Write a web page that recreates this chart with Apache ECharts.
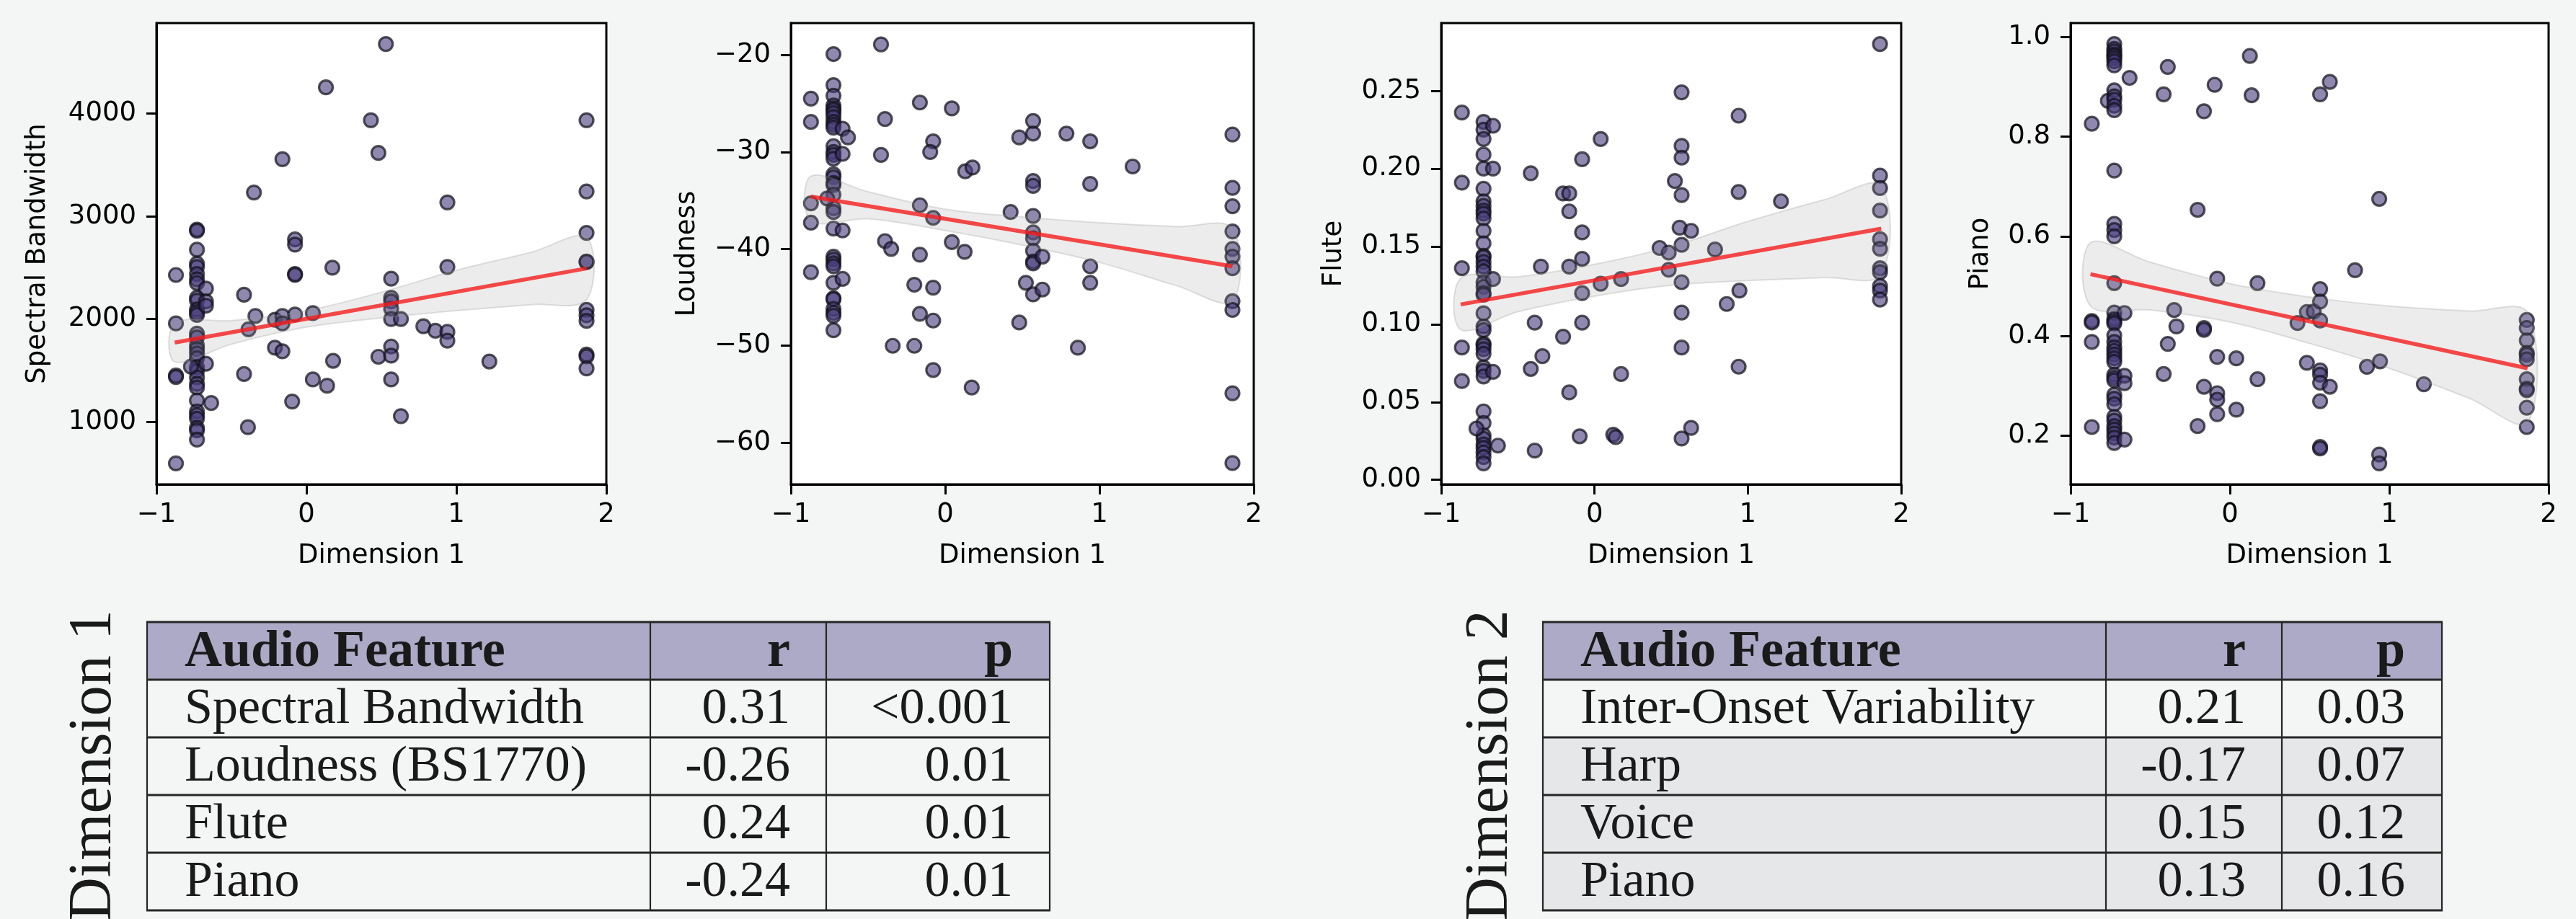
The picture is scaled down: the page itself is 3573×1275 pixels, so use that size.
<!DOCTYPE html>
<html><head><meta charset="utf-8">
<script src="https://cdn.jsdelivr.net/npm/echarts@6/dist/echarts.min.js"></script>
<style>html,body{margin:0;padding:0;background:#f4f6f5}#c{width:3573px;height:1275px}</style>
</head><body><div id="c"></div><script>
// ---------------- DATA ----------------
const xTicks = [-1, 0, 1, 2];
const yLabels = ['Spectral Bandwidth', 'Loudness', 'Flute', 'Piano'];
const xLabel = 'Dimension 1';

const bandwidthPts = [
[-0.87,2429],[-0.87,1957],[-0.87,1450],[-0.87,1435],[-0.87,593],
[-0.73,2871],[-0.73,2860],[-0.73,2675],[-0.73,2539],[-0.73,2507],[-0.73,2439],[-0.73,2386],[-0.73,2350],[-0.73,2207],[-0.73,2179],[-0.73,2093],[-0.73,2064],[-0.73,2039],[-0.73,1857],[-0.73,1821],[-0.73,1743],[-0.73,1707],[-0.73,1664],[-0.73,1618],[-0.73,1529],[-0.73,1493],[-0.73,1432],[-0.73,1368],[-0.73,1332],[-0.73,1207],[-0.73,1100],[-0.73,1064],[-0.73,1029],[-0.73,939],[-0.73,914],[-0.73,825],
[-0.77,1536],[-0.67,2296],[-0.67,2171],[-0.67,2129],[-0.67,1564],[-0.635,1182],
[-0.416,2236],[-0.416,1464],[-0.39,946],[-0.35,3232],[-0.34,2029],[-0.386,1900],
[-0.21,1993],[-0.21,1721],[-0.16,3557],[-0.16,2029],[-0.16,1957],[-0.16,1686],
[-0.076,2775],[-0.076,2725],[-0.076,2439],[-0.076,2430],[-0.095,1196],[-0.076,2043],
[0.043,2057],[0.043,1411],[0.13,4257],[0.138,1350],[0.173,2500],[0.178,1593],
[0.43,3936],[0.48,3618],[0.48,1632],[0.53,4679],
[0.565,2393],[0.565,2207],[0.565,2171],[0.565,2100],[0.565,2000],[0.565,1732],[0.565,1643],[0.565,1411],
[0.63,2000],[0.63,1054],[0.78,1929],[0.86,1886],
[0.94,3136],[0.94,2507],[0.94,1875],[0.94,1789],[1.22,1586],
[1.868,3936],[1.868,3243],[1.868,2839],[1.868,2554],[1.868,2560],[1.868,2089],[1.868,2036],[1.868,1982],[1.868,1654],[1.868,1636],[1.868,1518]
];
const loudnessPts = [
[-0.87,-24.5],[-0.87,-26.9],[-0.87,-35.3],[-0.87,-37.3],[-0.87,-42.4],
[-0.724,-19.9],[-0.724,-23.1],[-0.724,-24.2],[-0.724,-25.2],[-0.724,-25.5],[-0.724,-25.7],[-0.724,-26.0],[-0.724,-26.4],[-0.724,-26.9],[-0.724,-27.2],[-0.724,-27.5],[-0.724,-29.4],[-0.724,-30.0],[-0.724,-30.3],[-0.724,-30.7],[-0.724,-32.3],[-0.724,-32.6],[-0.724,-33.2],[-0.724,-33.4],[-0.724,-34.4],[-0.724,-35.8],[-0.724,-36.2],[-0.724,-37.9],[-0.724,-40.8],[-0.724,-41.1],[-0.724,-41.5],[-0.724,-41.8],[-0.724,-43.5],[-0.724,-45.1],[-0.724,-45.2],[-0.724,-46.2],[-0.724,-46.6],[-0.724,-46.9],[-0.724,-48.4],
[-0.765,-34.8],[-0.665,-27.6],[-0.63,-28.5],[-0.665,-30.2],[-0.665,-38.1],[-0.665,-43.1],
[-0.416,-18.9],[-0.416,-30.3],[-0.39,-26.6],[-0.39,-39.2],[-0.35,-40.0],[-0.34,-50.0],
[-0.2,-43.7],[-0.2,-50.0],[-0.164,-24.9],[-0.164,-35.5],[-0.164,-40.6],[-0.164,-46.7],
[-0.078,-28.9],[-0.097,-30.0],[-0.078,-36.8],[-0.078,-44.0],[-0.078,-47.4],[-0.078,-52.5],
[0.043,-25.5],[0.043,-39.3],[0.13,-32.0],[0.177,-31.6],[0.126,-40.3],[0.172,-54.3],
[0.424,-36.2],[0.48,-28.5],[0.48,-47.6],[0.523,-43.5],
[0.57,-26.8],[0.57,-28.1],[0.57,-33.0],[0.57,-33.5],[0.57,-36.6],[0.57,-38.3],[0.57,-38.9],[0.57,-40.2],[0.57,-41.3],[0.57,-41.5],[0.57,-44.7],
[0.63,-40.8],[0.63,-44.2],[0.786,-28.1],[0.86,-50.2],
[0.94,-28.9],[0.94,-33.3],[0.94,-41.8],[0.94,-43.5],[1.215,-31.5],
[1.862,-28.2],[1.862,-33.7],[1.862,-35.6],[1.862,-38.2],[1.862,-40.0],[1.862,-40.8],[1.862,-42.0],[1.862,-45.4],[1.862,-46.3],[1.862,-54.9],[1.862,-62.1]
];
const flutePts = [
[-0.865,0.236],[-0.865,0.191],[-0.865,0.136],[-0.865,0.085],[-0.865,0.0635],
[-0.724,0.230],[-0.724,0.225],[-0.724,0.219],[-0.724,0.209],[-0.724,0.200],[-0.724,0.187],[-0.724,0.179],[-0.724,0.176],[-0.724,0.173],[-0.724,0.171],[-0.724,0.168],[-0.724,0.160],[-0.724,0.152],[-0.724,0.144],[-0.724,0.143],[-0.724,0.140],[-0.724,0.137],[-0.724,0.134],[-0.724,0.127],[-0.724,0.124],[-0.724,0.120],[-0.724,0.119],[-0.724,0.107],[-0.724,0.0986],[-0.724,0.0962],[-0.724,0.0875],[-0.724,0.0864],[-0.724,0.084],[-0.724,0.081],[-0.724,0.0722],[-0.724,0.070],[-0.724,0.0664],[-0.724,0.044],[-0.724,0.0365],[-0.724,0.0287],[-0.724,0.0264],[-0.724,0.0228],[-0.724,0.0205],[-0.724,0.0176],[-0.724,0.0146],[-0.724,0.0106],
[-0.77,0.033],[-0.662,0.2275],[-0.662,0.200],[-0.662,0.129],[-0.662,0.0694],[-0.63,0.022],
[-0.416,0.197],[-0.416,0.0713],[-0.39,0.101],[-0.39,0.0188],[-0.35,0.137],[-0.34,0.0795],
[-0.205,0.184],[-0.205,0.092],[-0.165,0.184],[-0.165,0.1725],[-0.165,0.137],[-0.165,0.0562],
[-0.081,0.206],[-0.081,0.159],[-0.081,0.142],[-0.081,0.120],[-0.081,0.101],[-0.097,0.028],
[0.04,0.219],[0.04,0.126],[0.122,0.029],[0.138,0.0275],[0.173,0.129],[0.173,0.068],
[0.424,0.149],[0.484,0.146],[0.484,0.135],[0.524,0.192],
[0.568,0.249],[0.568,0.2146],[0.568,0.207],[0.568,0.183],[0.555,0.162],[0.568,0.151],[0.568,0.127],[0.568,0.1075],[0.568,0.085],[0.568,0.0266],
[0.63,0.160],[0.63,0.0334],[0.786,0.148],[0.862,0.113],
[0.94,0.234],[0.94,0.185],[0.945,0.1216],[0.94,0.0727],[1.216,0.179],
[1.862,0.280],[1.862,0.1955],[1.862,0.1875],[1.862,0.173],[1.862,0.1546],[1.862,0.1485],[1.862,0.136],[1.862,0.1334],[1.862,0.1245],[1.862,0.1216],[1.862,0.1158]
];
const pianoPts = [
[-0.867,0.826],[-0.867,0.430],[-0.867,0.427],[-0.867,0.388],[-0.867,0.217],[-0.766,0.872],
[-0.726,0.986],[-0.726,0.976],[-0.726,0.971],[-0.726,0.965],[-0.726,0.962],[-0.726,0.957],[-0.726,0.951],[-0.726,0.943],[-0.726,0.893],[-0.726,0.881],[-0.726,0.874],[-0.726,0.862],[-0.726,0.853],[-0.726,0.732],[-0.726,0.625],[-0.726,0.6125],[-0.726,0.600],[-0.726,0.506],[-0.726,0.447],[-0.726,0.434],[-0.726,0.429],[-0.726,0.425],[-0.726,0.401],[-0.726,0.388],[-0.726,0.377],[-0.726,0.370],[-0.726,0.3625],[-0.726,0.355],[-0.726,0.348],[-0.726,0.322],[-0.726,0.316],[-0.726,0.311],[-0.726,0.282],[-0.726,0.274],[-0.726,0.263],[-0.726,0.2375],[-0.726,0.230],[-0.726,0.219],[-0.726,0.212],[-0.726,0.204],[-0.726,0.196],[-0.726,0.185],
[-0.662,0.446],[-0.662,0.320],[-0.662,0.305],[-0.662,0.192],[-0.63,0.918],
[-0.416,0.885],[-0.416,0.3235],[-0.39,0.940],[-0.39,0.384],[-0.35,0.452],[-0.336,0.419],
[-0.203,0.653],[-0.203,0.219],[-0.163,0.851],[-0.163,0.416],[-0.163,0.412],[-0.163,0.298],
[-0.096,0.904],[-0.08,0.515],[-0.08,0.358],[-0.08,0.285],[-0.08,0.272],[-0.08,0.243],
[0.04,0.355],[0.04,0.252],[0.125,0.962],[0.136,0.883],[0.173,0.506],[0.173,0.313],
[0.424,0.426],[0.483,0.448],[0.483,0.346],[0.526,0.449],
[0.566,0.885],[0.566,0.494],[0.566,0.469],[0.566,0.431],[0.566,0.331],[0.566,0.322],[0.566,0.306],[0.566,0.269],[0.566,0.177],[0.566,0.174],
[0.627,0.910],[0.627,0.298],[0.785,0.532],[0.86,0.338],
[0.937,0.675],[0.942,0.349],[0.937,0.162],[0.937,0.144],[1.217,0.303],
[1.863,0.432],[1.863,0.416],[1.863,0.391],[1.863,0.366],[1.863,0.362],[1.863,0.353],[1.863,0.313],[1.863,0.294],[1.863,0.291],[1.863,0.256],[1.863,0.217]
];

// regression lines (endpoints) and confidence bands
const bandwidthFit = [[-0.878,1771],[1.868,2493]];
const loudnessFit = [[-0.87,-34.6],[1.862,-41.8]];
const fluteFit = [[-0.873,0.1127],[1.870,0.1614]];
const pianoFit = [[-0.875,0.524],[1.868,0.335]];

const bandwidthBandX = [-0.878,-0.5,0,0.5,1.0,1.5,1.868];
const bandwidthBandLo = [1582,1755,1921,2011,2082,2140,2189];
const bandwidthBandHi = [1957,1985,2082,2261,2475,2650,2796];
const loudnessBandX = [-0.87,-0.5,0,0.5,1.0,1.5,1.862];
const loudnessBandLo = [-37.1,-36.9,-38.1,-39.6,-41.4,-43.8,-45.4];
const loudnessBandHi = [-32.5,-34.1,-35.9,-36.7,-37.3,-37.7,-37.9];
const fluteBandX = [-0.873,-0.5,0,0.5,1.0,1.5,1.870];
const fluteBandLo = [0.0965,0.108,0.118,0.125,0.128,0.130,0.132];
const fluteBandHi = [0.1294,0.1305,0.1385,0.150,0.166,0.180,0.189];
const pianoBandX = [-0.875,-0.5,0,0.5,1.0,1.5,1.868];
const pianoBandLo = [0.460,0.452,0.428,0.385,0.335,0.275,0.226];
const pianoBandHi = [0.587,0.548,0.505,0.478,0.460,0.450,0.447];

const yRanges = [[389,4883],[-64.3,-16.7],[-0.0029,0.2935],[0.102,1.028]];
const bandwidthTicks = [1000,2000,3000,4000];
const loudnessTicks = [-60,-50,-40,-30,-20];
const fluteTicks = [0,0.05,0.10,0.15,0.20,0.25];
const pianoTicks = [0.2,0.4,0.6,0.8,1.0];

const tableHeader = ['Audio Feature','r','p'];
const dim1Features = ['Spectral Bandwidth','Loudness (BS1770)','Flute','Piano'];
const dim1R = ['0.31','-0.26','0.24','-0.24'];
const dim1P = ['<0.001','0.01','0.01','0.01'];
const dim2Features = ['Inter-Onset Variability','Harp','Voice','Piano'];
const dim2R = ['0.21','-0.17','0.15','0.13'];
const dim2P = ['0.03','0.07','0.12','0.16'];
const tableTitles = ['Dimension 1','Dimension 2'];

// ---------------- LAYOUT / STYLE ----------------
const grids = [
  {left:217, top:32, width:624, height:640},
  {left:1097, top:32, width:642, height:640},
  {left:1999, top:32, width:638, height:640},
  {left:2872, top:32, width:663, height:640}
];
const pts = [bandwidthPts, loudnessPts, flutePts, pianoPts];
const fits = [bandwidthFit, loudnessFit, fluteFit, pianoFit];
const bands = [
  [bandwidthBandX,bandwidthBandLo,bandwidthBandHi],
  [loudnessBandX,loudnessBandLo,loudnessBandHi],
  [fluteBandX,fluteBandLo,fluteBandHi],
  [pianoBandX,pianoBandLo,pianoBandHi]
];
const yTickSets = [bandwidthTicks, loudnessTicks, fluteTicks, pianoTicks];
const yFmt = [
  v => String(v).replace('-','\u2212'),
  v => String(v).replace('-','\u2212'),
  v => v.toFixed(2),
  v => v.toFixed(1)
];
const yTitleX = [52, 953, 1850, 2747];
const SANS = 'DejaVu Sans';
const FS = 37;

const chart = echarts.init(document.getElementById('c'), null, {renderer:'canvas'});

const xAxes = [], yAxes = [], series = [], graphics = [];
grids.forEach((g, i) => {
  xAxes.push({
    type:'value', gridIndex:i, min:-1, max:2, interval:1,
    axisLine:{show:true, onZero:false, lineStyle:{color:'#000', width:3}},
    axisTick:{show:true, length:14, lineStyle:{color:'#000', width:3}},
    axisLabel:{fontFamily:SANS, fontSize:FS, color:'#000', margin:24,
      formatter: v => String(v).replace('-','\u2212')},
    splitLine:{show:false}
  });
  yAxes.push({
    type:'value', gridIndex:i, min:yRanges[i][0], max:yRanges[i][1],
    axisLine:{show:true, onZero:false, lineStyle:{color:'#000', width:3}},
    axisTick:{show:true, length:14, lineStyle:{color:'#000', width:3}, customValues:yTickSets[i]},
    axisLabel:{fontFamily:SANS, fontSize:FS, color:'#000', margin:28,
      customValues:yTickSets[i], formatter: yFmt[i]},
    splitLine:{show:false}
  });
  series.push({
    type:'scatter', xAxisIndex:i, yAxisIndex:i, data:pts[i], symbolSize:19, z:2,
    itemStyle:{color:'rgba(72,60,124,0.76)', borderColor:'rgba(18,18,28,0.9)', borderWidth:3.2},
    silent:true
  });
  const b = bands[i];
  series.push({
    type:'custom', xAxisIndex:i, yAxisIndex:i, z:3, silent:true,
    data:[[b[0][0], b[1][0]]],
    renderItem:(params, api) => {
      const poly = [];
      for (let k = 0; k < b[0].length; k++) poly.push(api.coord([b[0][k], b[2][k]]));
      for (let k = b[0].length - 1; k >= 0; k--) poly.push(api.coord([b[0][k], b[1][k]]));
      return {type:'polygon', shape:{points:poly, smooth:0.35},
        style:{fill:'rgba(150,150,150,0.18)', stroke:'rgba(150,150,150,0.28)', lineWidth:2}};
    }
  });
  series.push({
    type:'line', xAxisIndex:i, yAxisIndex:i, data:fits[i], showSymbol:false, z:4, silent:true,
    lineStyle:{color:'rgba(245,30,30,0.8)', width:5.5}
  });
  graphics.push({type:'text', x:yTitleX[i], y:g.top + g.height/2, rotation:Math.PI/2,
    style:{text:yLabels[i], font:FS + 'px "' + SANS + '"', fill:'#000', align:'center', verticalAlign:'middle'}});
  graphics.push({type:'text', x:g.left + g.width/2, y:771,
    style:{text:xLabel, font:FS + 'px "' + SANS + '"', fill:'#000', align:'center', verticalAlign:'middle'}});
});

// ---------------- TABLES ----------------
const SERIF = '"Liberation Serif"';
const rowY = [863, 943, 1023, 1103, 1183, 1263];
function addTable(cols, feats, rs, ps, fills, titleX, title) {
  graphics.push({type:'rect', shape:{x:cols[0], y:rowY[0], width:cols[3]-cols[0], height:rowY[1]-rowY[0]}, style:{fill:'#adaac7'}});
  for (let r = 0; r < 4; r++) {
    graphics.push({type:'rect', shape:{x:cols[0], y:rowY[r+1], width:cols[3]-cols[0], height:rowY[r+2]-rowY[r+1]}, style:{fill:fills[r]}});
  }
  rowY.forEach(y => graphics.push({type:'line', shape:{x1:cols[0]-1, y1:y, x2:cols[3]+1, y2:y}, style:{stroke:'#262626', lineWidth:3.2}}));
  cols.forEach(x => graphics.push({type:'line', shape:{x1:x, y1:rowY[0], x2:x, y2:rowY[5]}, style:{stroke:'#262626', lineWidth:2.2}}));
  const hy = (rowY[0]+rowY[1])/2 + 2;
  graphics.push({type:'text', x:cols[0]+52, y:hy, style:{text:tableHeader[0], font:'bold 72px ' + SERIF, fill:'#1a1a1a', align:'left', verticalAlign:'middle'}});
  graphics.push({type:'text', x:cols[2]-50, y:hy, style:{text:tableHeader[1], font:'bold 72px ' + SERIF, fill:'#1a1a1a', align:'right', verticalAlign:'middle'}});
  graphics.push({type:'text', x:cols[3]-51, y:hy, style:{text:tableHeader[2], font:'bold 72px ' + SERIF, fill:'#1a1a1a', align:'right', verticalAlign:'middle'}});
  for (let r = 0; r < 4; r++) {
    const cy = (rowY[r+1]+rowY[r+2])/2 + 2;
    graphics.push({type:'text', x:cols[0]+52, y:cy, style:{text:feats[r], font:'70px ' + SERIF, fill:'#1a1a1a', align:'left', verticalAlign:'middle'}});
    graphics.push({type:'text', x:cols[2]-50, y:cy, style:{text:rs[r], font:'70px ' + SERIF, fill:'#1a1a1a', align:'right', verticalAlign:'middle'}});
    graphics.push({type:'text', x:cols[3]-51, y:cy, style:{text:ps[r], font:'70px ' + SERIF, fill:'#1a1a1a', align:'right', verticalAlign:'middle'}});
  }
  graphics.push({type:'text', x:titleX, y:1062, rotation:Math.PI/2,
    style:{text:title, font:'84px ' + SERIF, fill:'#1a1a1a', align:'center', verticalAlign:'middle'}});
}
addTable([204, 902, 1146, 1456], dim1Features, dim1R, dim1P,
  ['#f4f6f5','#f4f6f5','#f4f6f5','#f4f6f5'], 131, tableTitles[0]);
addTable([2140, 2921, 3165, 3387], dim2Features, dim2R, dim2P,
  ['#f4f6f5','#e6e7e9','#e6e7e9','#e6e7e9'], 2068, tableTitles[1]);

chart.setOption({
  animation:false,
  backgroundColor:'#f4f6f5',
  grid: grids.map(g => Object.assign({show:true, backgroundColor:'#fff', borderColor:'#000', borderWidth:3}, g)),
  xAxis:xAxes, yAxis:yAxes, series:series,
  graphic:{elements:graphics}
});
</script></body></html>
